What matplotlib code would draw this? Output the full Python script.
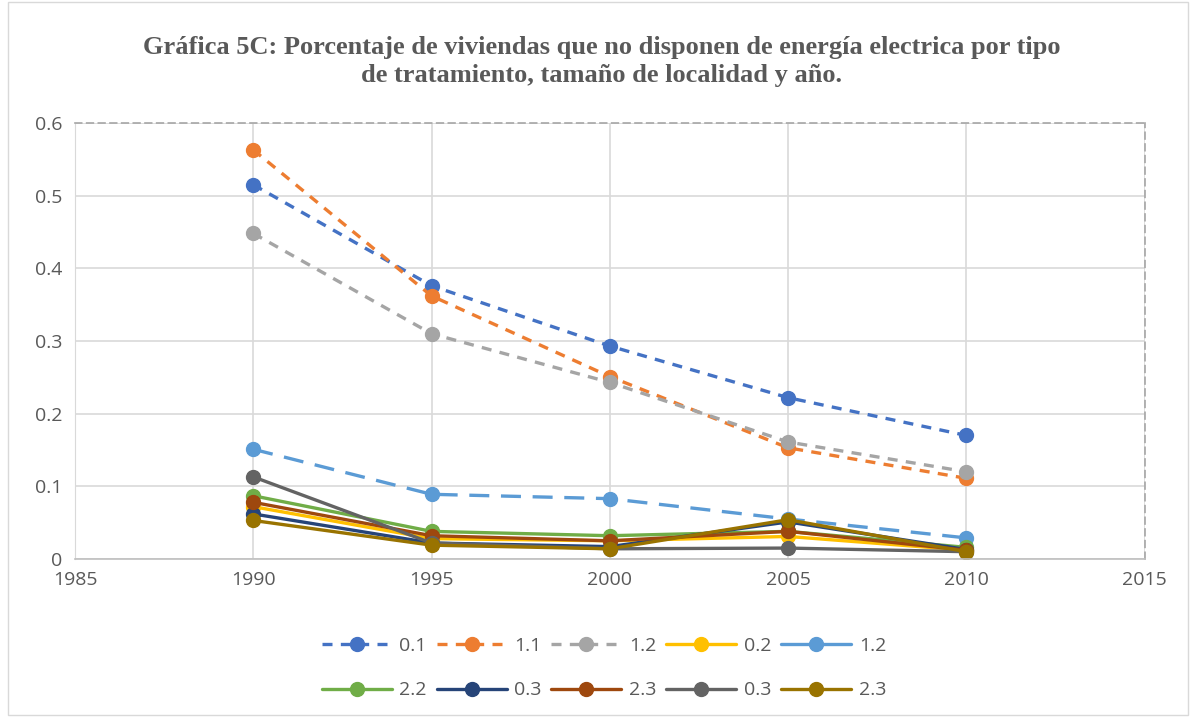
import matplotlib
matplotlib.use("agg")
import matplotlib.pyplot as plt
from matplotlib.patches import Rectangle

years = [1990, 1995, 2000, 2005, 2010]
labels = ["0.1", "1.1", "1.2", "0.2", "1.2", "2.2", "0.3", "2.3", "0.3", "2.3"]
s01 = [0.515, 0.376, 0.293, 0.222, 0.170]
s11 = [0.563, 0.362, 0.251, 0.153, 0.111]
s12 = [0.448, 0.310, 0.243, 0.161, 0.120]
s02 = [0.072, 0.028, 0.025, 0.031, 0.012]
s12b = [0.151, 0.089, 0.083, 0.055, 0.029]
s22 = [0.087, 0.038, 0.032, 0.038, 0.016]
s03 = [0.062, 0.022, 0.017, 0.051, 0.013]
s23 = [0.078, 0.032, 0.025, 0.038, 0.012]
s03b = [0.113, 0.022, 0.014, 0.015, 0.010]
s23b = [0.053, 0.019, 0.014, 0.054, 0.010]
series = [s01, s11, s12, s02, s12b, s22, s03, s23, s03b, s23b]
colors = ["#4472C4", "#ED7D31", "#A5A5A5", "#FFC000", "#5B9BD5",
          "#70AD47", "#264478", "#9E480E", "#636363", "#997300"]
dashes = [(3, 2.5), (3, 2.5), (3, 2.5), None, (6, 3.5),
          None, None, None, None, None]

text_color = "#595959"
plt.rcParams["font.family"] = ["Open Sans", "DejaVu Sans"]

fig = plt.figure(figsize=(11.96, 7.17), dpi=100)
ax = fig.add_axes([0.0627, 0.2204, 0.8943, 0.6081])

handles = []
for vals, lab, col, ds in zip(series, labels, colors, dashes):
    line, = ax.plot(years, vals, color=col, lw=2.4, marker="o", ms=10,
                    label=lab, solid_capstyle="round")
    if ds:
        line.set_dashes(ds)
    handles.append(line)

ax.set_xlim(1985, 2015)
ax.set_ylim(0, 0.6)
ax.set_xticks(range(1985, 2016, 5))
ax.set_yticks([0, 0.1, 0.2, 0.3, 0.4, 0.5, 0.6])
ax.set_yticklabels(["0", "0.1", "0.2", "0.3", "0.4", "0.5", "0.6"])
ax.grid(True, color="#D9D9D9", lw=1.2)
ax.set_axisbelow(True)
ax.tick_params(length=0, labelsize=14, colors=text_color, pad=9)
for side in ("top", "right"):
    ax.spines[side].set_color("#A6A6A6")
    ax.spines[side].set_linestyle((0, (4, 3)))
    ax.spines[side].set_linewidth(1.2)
ax.spines["left"].set_color("#D9D9D9")
ax.spines["bottom"].set_color("#BFBFBF")
ax.spines["bottom"].set_linewidth(1.2)

fig.suptitle("Gráfica 5C: Porcentaje de viviendas que no disponen de energía electrica por tipo\n"
             "de tratamiento, tamaño de localidad y año.",
             x=0.503, y=0.95, va="top", fontsize=19, fontweight="bold", color=text_color,
             family="Liberation Serif", linespacing=1.3)

# legend fills row by row in the reference
order = [0, 5, 1, 6, 2, 7, 3, 8, 4, 9]
leg = fig.legend([handles[i] for i in order], [labels[i] for i in order],
                 loc="center", bbox_to_anchor=(0.505, 0.068), ncol=5, frameon=False,
                 fontsize=14, labelcolor=text_color, handlelength=3.6,
                 columnspacing=0.5, handletextpad=0.4, labelspacing=1.35)
# the long-dash series is drawn solid in the legend key
leg.get_lines()[order.index(4)].set_linestyle("-")

fig.patches.append(Rectangle((0.007, 0.003), 0.986, 0.994, transform=fig.transFigure,
                             fill=False, edgecolor="#D9D9D9", lw=1.0))

fig.savefig("out.png", dpi=100)
